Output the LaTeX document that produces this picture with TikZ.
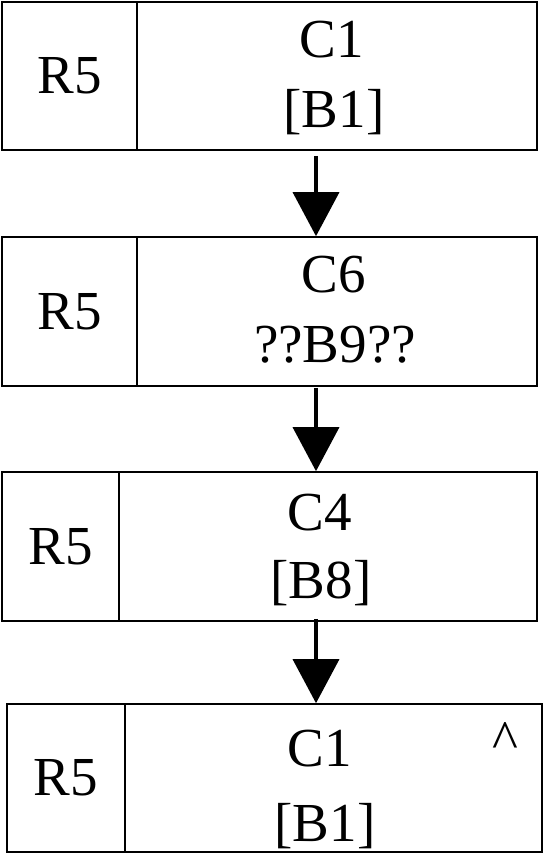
\documentclass[tikz,border=0pt]{standalone}
\usepackage{fontspec}
\setmainfont{Liberation Serif}
\usetikzlibrary{arrows.meta}

\tikzset{
  cell/.style={draw, line width=1.6pt, inner sep=0pt, font=\fontsize{55}{66}\selectfont},
  txt/.style={inner sep=0pt, anchor=base, font=\fontsize{55}{66}\selectfont},
  flow/.style={line width=3.5pt, -{Triangle[width=46pt,length=44pt]}}
}

\begin{document}
\begin{tikzpicture}[x=1pt,y=-1pt]
\useasboundingbox (0,0) rectangle (543,854);

\node[cell, minimum width=135pt, minimum height=148pt] (r1) at (69.5,76) {R5};
\node[cell, minimum width=400pt, minimum height=148pt] (m1) at (337,76) {};
\node[cell, minimum width=135pt, minimum height=149pt] (r2) at (69.5,311.5) {R5};
\node[cell, minimum width=400pt, minimum height=149pt] (m2) at (337,311.5) {};
\node[cell, minimum width=117pt, minimum height=149pt] (r3) at (60.5,546.5) {R5};
\node[cell, minimum width=418pt, minimum height=149pt] (m3) at (328,546.5) {};
\node[cell, minimum width=118pt, minimum height=148pt] (r4) at (66,778) {R5};
\node[cell, minimum width=417pt, minimum height=148pt] (m4) at (333.5,778) {};

\node[txt] (c1) at (332,57) {C1};
\node[txt] (b1) at (334,127) {[B1]};
\node[txt] (c6) at (334,292) {C6};
\node[txt] (b9) at (335,362) {??B9??};
\node[txt] (c4) at (320,530) {C4};
\node[txt] (b8) at (321,598) {[B8]};
\node[txt] (c1b) at (320,766) {C1};
\node[txt] (b1b) at (325,841) {[B1]};
\node[txt] (hat) at (505,758) {\^{}};

\draw[flow] ([xshift=-21pt,yshift=-5pt]m1.south) -- ([xshift=-21pt]m2.north);
\draw[flow] ([xshift=-21pt,yshift=-1pt]m2.south) -- ([xshift=-12pt]m3.north);
\draw[flow] ([xshift=-12pt,yshift=3pt]m3.south) -- ([xshift=-17.5pt]m4.north);
\end{tikzpicture}
\end{document}
